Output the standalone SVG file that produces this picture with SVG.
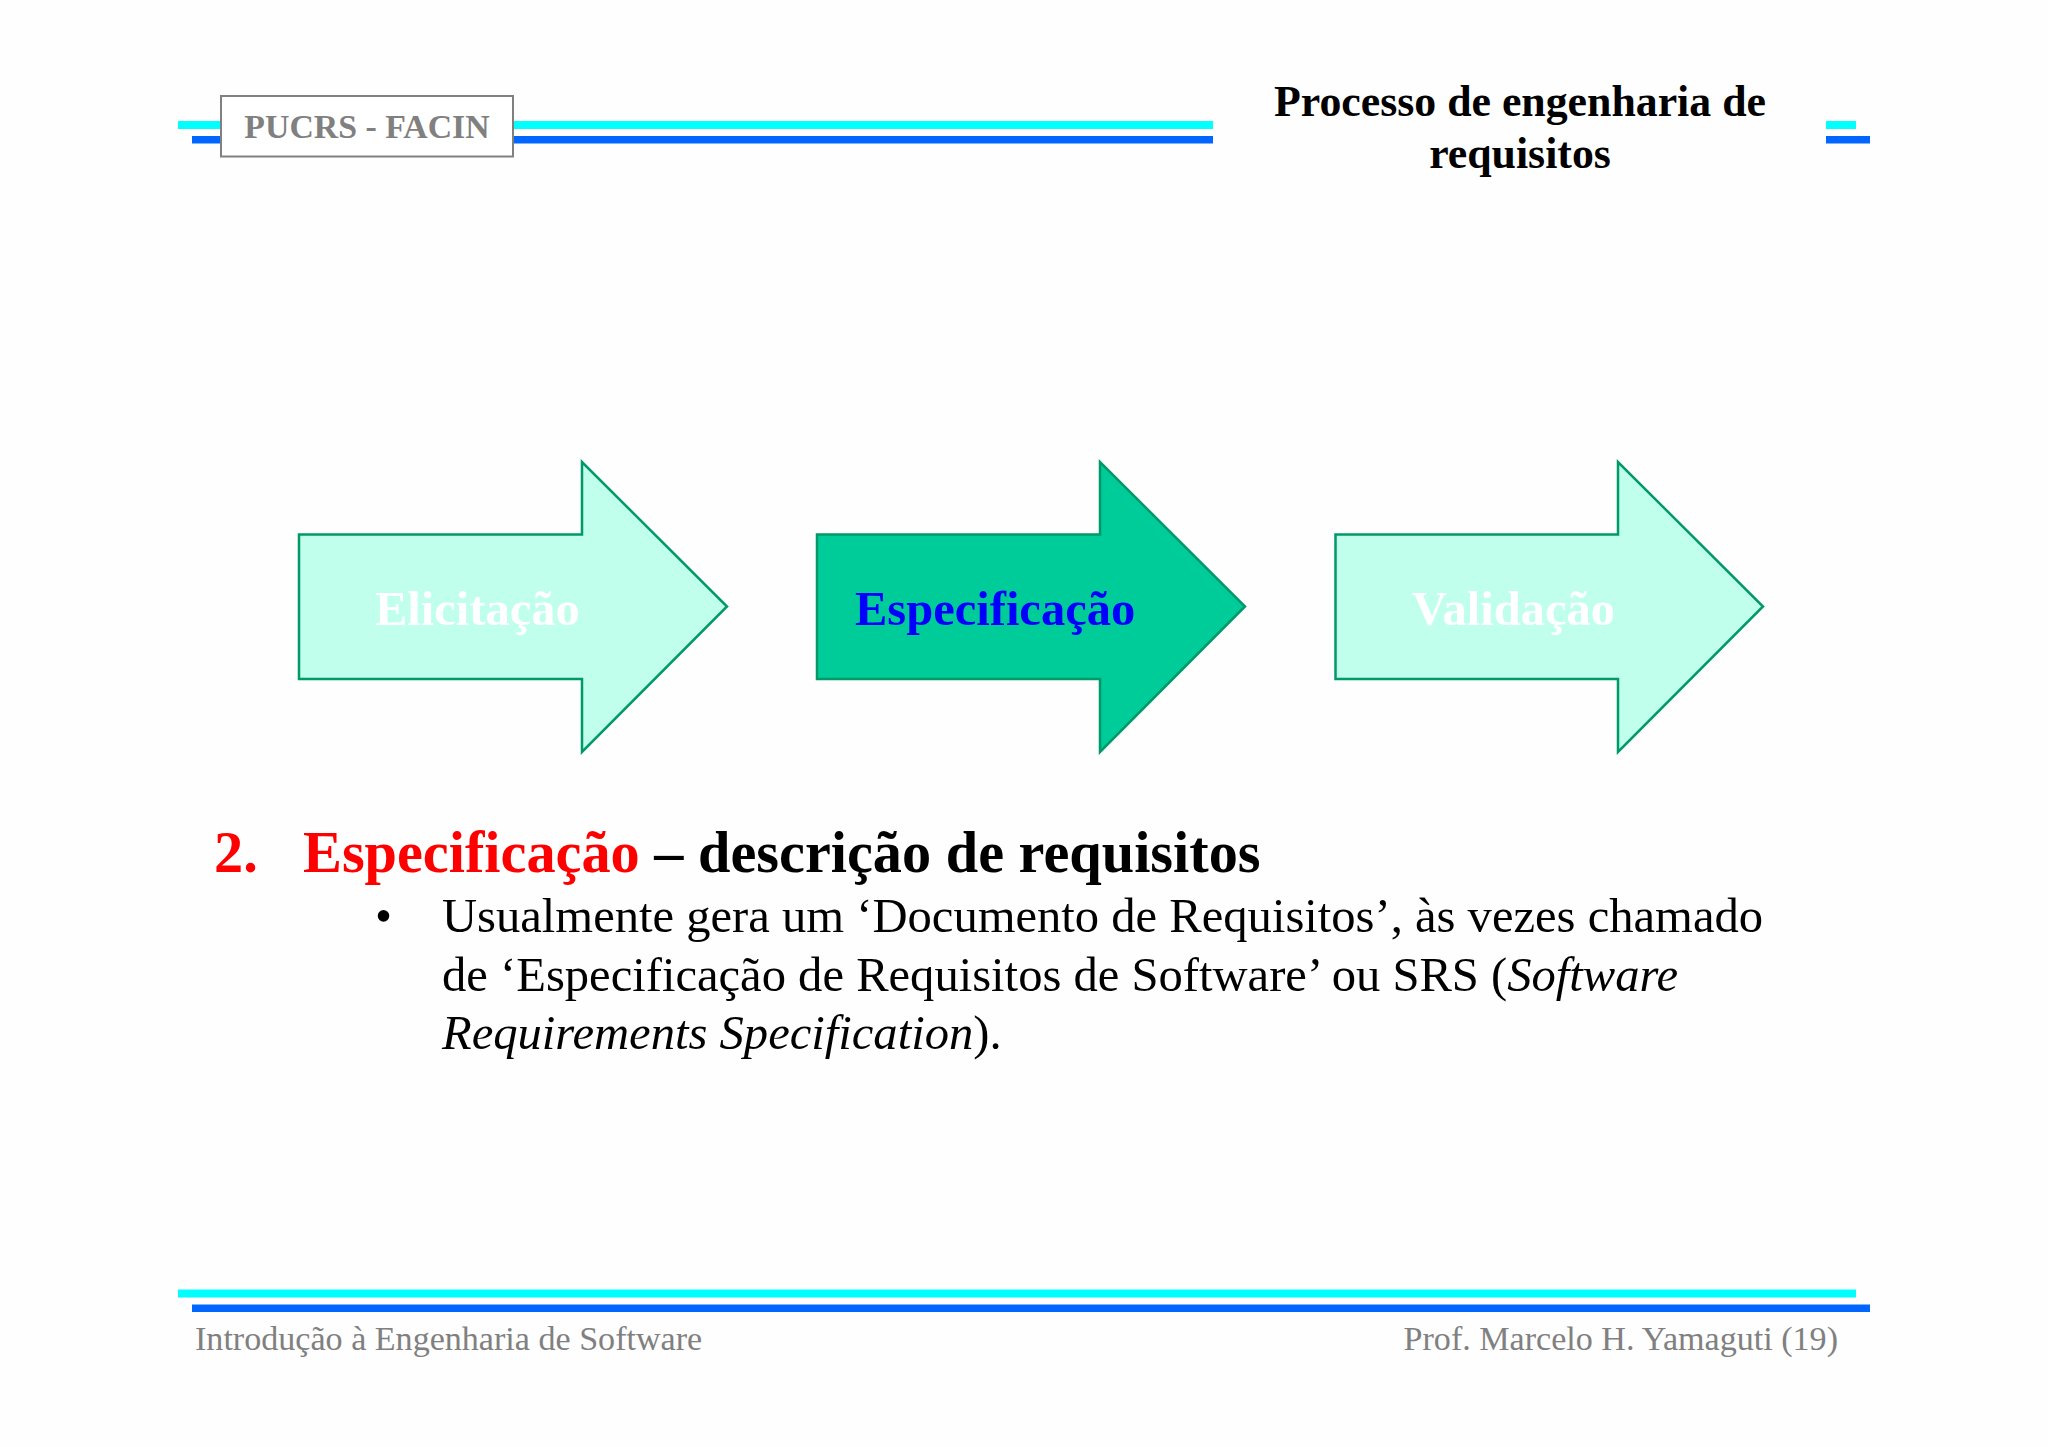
<svg xmlns="http://www.w3.org/2000/svg" width="2048" height="1447" viewBox="0 0 2048 1447">
<style>
text{font-family:"Liberation Serif","Times New Roman",serif}
.c{fill:#00ffff}.b{fill:#0066ff}
.a{stroke:#009968;stroke-width:2.5;fill:#bfffeb}
.l{font-size:48.5px;font-weight:bold}
.t{font-size:43.8px;font-weight:bold;text-anchor:middle}
.h{font-size:58.3px;font-weight:bold}
.p{font-size:48.6px}
.f{font-size:34.1px;fill:#808080}
</style>
<rect width="2048" height="1447" fill="#fefefe"/>
<g id="header-bars">
<rect class="c" x="178" y="121" width="1035" height="8"/>
<rect class="b" x="192" y="136" width="1021" height="7.5"/>
<rect class="c" x="1826" y="121" width="30" height="8"/>
<rect class="b" x="1826" y="136" width="44" height="7.5"/>
</g>
<g id="pucrs">
<rect x="221" y="96" width="292" height="60.5" fill="#ffffff" stroke="#808080" stroke-width="2"/>
<text x="367" y="138" text-anchor="middle" font-size="33.8" font-weight="bold" fill="#808080">PUCRS - FACIN</text>
</g>
<g id="title">
<text class="t" x="1520" y="116">Processo de engenharia de</text>
<text class="t" x="1520" y="168">requisitos</text>
</g>
<g id="connectors"></g>
<g id="elicitacao">
<polygon class="a" points="299,534.5 582,534.5 582,462 727,606.5 582,752 582,679 299,679"/>
<text class="l" x="375" y="625" fill="#ffffff">Elicitação</text>
</g>
<g id="especificacao">
<polygon class="a" style="fill:#00cc99" points="817,534.5 1100,534.5 1100,462 1245,606.5 1100,752 1100,679 817,679"/>
<text class="l" x="855" y="625" fill="#0000ff">Especificação</text>
</g>
<g id="validacao">
<polygon class="a" points="1335.5,534.5 1618,534.5 1618,462 1763,606.5 1618,752 1618,679 1335.5,679"/>
<text class="l" x="1412" y="625" fill="#ffffff">Validação</text>
</g>
<g id="content">
<text class="h" x="214" y="872" fill="#ff0000">2.</text>
<text class="h" x="303" y="872"><tspan fill="#ff0000">Especificação</tspan> – descrição de requisitos</text>
<text class="p" x="375" y="932">•</text>
<text class="p" x="442" y="932">Usualmente gera um ‘Documento de Requisitos’, às vezes chamado</text>
<text class="p" x="442" y="991">de ‘Especificação de Requisitos de Software’ ou SRS (<tspan font-style="italic">Software</tspan></text>
<text class="p" x="442" y="1049"><tspan font-style="italic">Requirements Specification</tspan>).</text>
</g>
<g id="footer">
<rect class="c" x="178" y="1289.5" width="1678" height="8"/>
<rect class="b" x="192" y="1304.5" width="1678" height="7.5"/>
<text class="f" x="195" y="1350">Introdução à Engenharia de Software</text>
<text class="f" x="1838" y="1350" text-anchor="end">Prof. Marcelo H. Yamaguti (19)</text>
</g>
</svg>
